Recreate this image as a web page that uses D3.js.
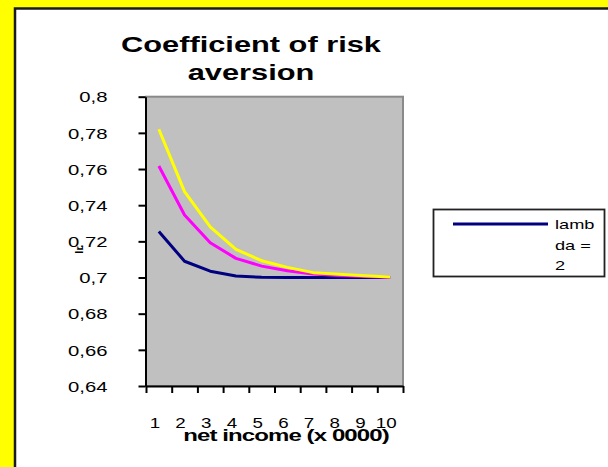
<!DOCTYPE html>
<html>
<head>
<meta charset="utf-8">
<script src="https://cdn.jsdelivr.net/npm/d3@7"></script>
<style>
  html, body { margin: 0; padding: 0; background: #FFFF00; }
  svg { display: block; }
  text { font-family: "Liberation Sans", Arial, sans-serif; fill: #000; }
</style>
</head>
<body>
<svg id="chart" width="608" height="467"></svg>
<script>
// Net income categories (x 0000)
const categories = ["1", "2", "3", "4", "5", "6", "7", "8", "9", "10"];
// Coefficient of risk aversion per income level
const seriesLambda2 = [0.7255, 0.709, 0.7035, 0.7008, 0.7001, 0.7, 0.7, 0.7, 0.7, 0.7];
const seriesMagenta = [0.7617, 0.7346, 0.7192, 0.7106, 0.7063, 0.7037, 0.702, 0.7011, 0.7006, 0.7002];
const seriesYellow  = [0.782, 0.7475, 0.728, 0.7156, 0.7093, 0.7056, 0.7027, 0.7018, 0.701, 0.7003];
const yTickValues = [0.64, 0.66, 0.68, 0.7, 0.72, 0.74, 0.76, 0.78, 0.8];
const legendLines = ["lamb", "da =", "2"];

const series = [
  { values: seriesLambda2, color: "#000080" },
  { values: seriesMagenta, color: "#FF00FF" },
  { values: seriesYellow,  color: "#FFFF00" }
];

const svg = d3.select("#chart");
const SX = 1.4; // wide type used throughout the chart

// white chart panel with dark frame
svg.append("rect").attr("x", 15).attr("y", 8.5).attr("width", 700).attr("height", 600)
  .attr("fill", "#fff").attr("stroke", "#1a1a1a").attr("stroke-width", 2.5);

const plot = { left: 146, right: 403, top: 96.7, bottom: 386 };

const x = d3.scaleBand().domain(categories).range([plot.left, plot.right]).padding(0);
const xEdges = d3.scaleLinear().domain([0, categories.length]).range([plot.left, plot.right]);
const y = d3.scaleLinear().domain([0.64, 0.8]).range([plot.bottom, plot.top]);

// plot area
svg.append("rect").attr("x", plot.left).attr("y", plot.top)
  .attr("width", plot.right - plot.left).attr("height", plot.bottom - plot.top)
  .attr("fill", "#C0C0C0").attr("stroke", "#8a8a8a").attr("stroke-width", 2);

// title
const title = svg.append("g");
[["Coefficient of risk", 52], ["aversion", 80]].forEach(([t, yy]) => {
  title.append("text").attr("transform", `translate(251,${yy}) scale(${SX},1)`)
    .attr("text-anchor", "middle").attr("font-size", 22).attr("font-weight", "bold").text(t);
});

// y axis
const yAxis = svg.append("g").attr("transform", `translate(${plot.left - 0.5},0)`)
  .call(d3.axisLeft(y).tickValues(yTickValues).tickSize(7).tickSizeOuter(0)
    .tickFormat(d => d3.format("")(+d.toFixed(2)).replace(".", ",")));
yAxis.select(".domain").attr("stroke", "#000").attr("stroke-width", 2);
yAxis.selectAll(".tick line").attr("stroke", "#000").attr("stroke-width", 2);
yAxis.selectAll(".tick text").attr("x", null).attr("dy", "0.36em")
  .attr("transform", `translate(-38,0) scale(${SX},1)`)
  .attr("font-size", 14.5).attr("font-family", null).attr("fill", "#222");

// x axis: tick marks at category boundaries
const xAxis = svg.append("g").attr("transform", `translate(0,${plot.bottom})`)
  .call(d3.axisBottom(xEdges).tickValues(d3.range(0, categories.length + 1)).tickSize(7)
    .tickSizeOuter(0).tickFormat(""));
xAxis.select(".domain").attr("stroke", "#000").attr("stroke-width", 2);
xAxis.selectAll(".tick line").attr("stroke", "#000").attr("stroke-width", 2);

// x labels at category centres
const xLabels = svg.append("g").attr("transform", `translate(-4,${plot.bottom})`)
  .call(d3.axisBottom(x).tickSize(0).tickSizeOuter(0));
xLabels.select(".domain").remove();
xLabels.selectAll(".tick text").attr("y", null).attr("dy", null)
  .attr("transform", `translate(0,42) scale(1.25,1)`)
  .attr("font-size", 15).attr("font-family", null).attr("fill", "#222");

// axis titles
svg.append("text").attr("transform", `translate(286,441) scale(1.5,1)`)
  .attr("text-anchor", "middle").attr("font-size", 16).attr("font-weight", "bold")
  .attr("letter-spacing", -0.6).text("net income (x 0000)");
svg.append("text").attr("transform", `translate(83,250) rotate(-90)`)
  .attr("text-anchor", "middle").attr("font-size", 11).attr("font-weight", "bold").text("lr");

// lines
const line = d3.line()
  .x((d, i) => x(categories[i]) + x.bandwidth() / 2)
  .y(d => y(d));
svg.append("g").selectAll("path").data(series).join("path")
  .attr("d", s => line(s.values))
  .attr("fill", "none").attr("stroke", s => s.color).attr("stroke-width", 3)
  .attr("stroke-linejoin", "round");

// legend
const legend = svg.append("g");
legend.append("rect").attr("x", 433.5).attr("y", 209.5).attr("width", 171).attr("height", 67)
  .attr("fill", "#fff").attr("stroke", "#222").attr("stroke-width", 1.8);
legend.append("line").attr("x1", 453).attr("x2", 548).attr("y1", 224).attr("y2", 224)
  .attr("stroke", series[0].color).attr("stroke-width", 3);
legendLines.forEach((t, i) => {
  legend.append("text").attr("transform", `translate(555,${229 + i * 20.5}) scale(${SX},1)`)
    .attr("font-size", 13).attr("fill", "#222").text(t);
});
</script>
</body>
</html>
